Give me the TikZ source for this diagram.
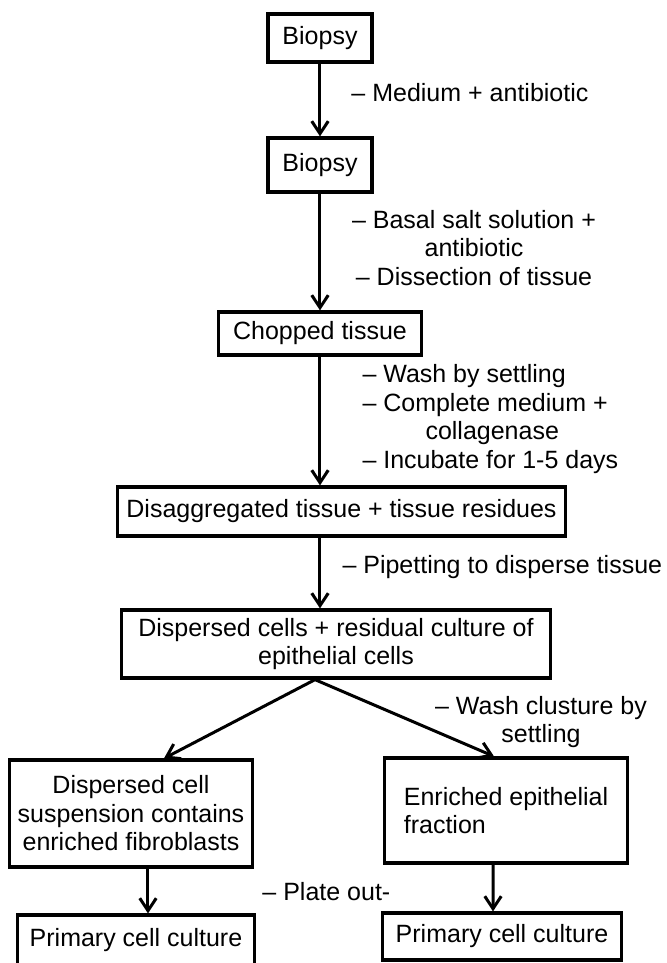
\documentclass[tikz,border=0pt]{standalone}
\usepackage{fontspec}
\setmainfont{Liberation Sans}
\usetikzlibrary{arrows.meta}

\begin{document}
\tikzstyle{every node}=[font=\fontsize{10}{11.4}\selectfont, inner sep=0pt]
\tikzstyle{box}=[rectangle, draw=black, line width=1.3pt, align=center]
\tikzstyle{note}=[align=center]
\tikzstyle{arr}=[-{Straight Barb[length=5pt,width=6.6pt]}, line width=1.2pt]

\begin{tikzpicture}[x=0.4pt,y=-0.4pt]
\useasboundingbox (0,0) rectangle (667,963);
\clip (0,0) rectangle (667,963);

\node [box,minimum width=41.6pt,minimum height=19.2pt] (B1) at (320,38) {Biopsy};
\node [box,below of=B1,node distance=50.8pt,minimum width=41.6pt,minimum height=21.6pt] (B2) {Biopsy};
\node [box,below of=B2,node distance=67.4pt,minimum width=81.2pt,minimum height=17.2pt] (Chop) {Chopped tissue};
\node [box,below of=Chop,node distance=71.2pt,xshift=8.6pt,minimum width=179.2pt,minimum height=19.6pt] (Disagg) {Disaggregated tissue + tissue residues};
\node [box,below of=Disagg,node distance=53pt,xshift=-2.2pt,minimum width=171.6pt,minimum height=27.2pt] (Disp) {Dispersed cells + residual culture of\\epithelial cells};

\node [box,below of=Disp,node distance=67.8pt,xshift=-82pt,minimum width=97.2pt,minimum height=42.8pt] (Fibro) {Dispersed cell\\suspension contains\\enriched fibroblasts};
\node [box,below of=Disp,node distance=66.6pt,xshift=68pt,minimum width=97.2pt,minimum height=42pt,align=left] (Epi) {Enriched epithelial\\fraction};

\node [box,below of=Fibro,node distance=50.8pt,xshift=2pt,minimum width=94.8pt,minimum height=20.4pt] (PrimL) {Primary cell culture};
\node [box,below of=Epi,node distance=50.4pt,xshift=-1.6pt,minimum width=95.6pt,minimum height=18.8pt] (PrimR) {Primary cell culture};

% steps
\node [note,anchor=west] (Med) at (351,93) {-- Medium + antibiotic};
\node [note] (Salt) at (474,248) {-- Basal salt solution +\\antibiotic\\-- Dissection of tissue};
\node [note,anchor=west,align=left] (Wash) at (362,419) {-- Wash by settling\\-- Complete medium +\\\hspace*{25.2pt}collagenase\\-- Incubate for 1-5 days};
\node [note,anchor=west] (Pip) at (342,567) {-- Pipetting to disperse tissue};
\node [note] (Clus) at (541,722) {-- Wash clusture by\\settling};
\node [note,anchor=west] (Plate) at (262,892) {-- Plate out-};

\draw [arr] (B1) -- (B2);
\draw [arr] (B2) -- (Chop);
\draw [arr] (Chop) -- (Chop |- Disagg.north);
\draw [arr] (Disagg.south -| Chop) -- (Chop |- Disp.north);
\draw [arr] ([xshift=-8.4pt]Disp.south) -- ([xshift=13.2pt]Fibro.north);
\draw [arr] ([xshift=-8.4pt]Disp.south) -- ([xshift=-4.8pt]Epi.north);
\draw [arr] ([xshift=6.8pt]Fibro.south) -- ([xshift=4.8pt]PrimL.north);
\draw [arr] ([xshift=-5.2pt]Epi.south) -- ([xshift=-3.6pt]PrimR.north);
\end{tikzpicture}
\end{document}
